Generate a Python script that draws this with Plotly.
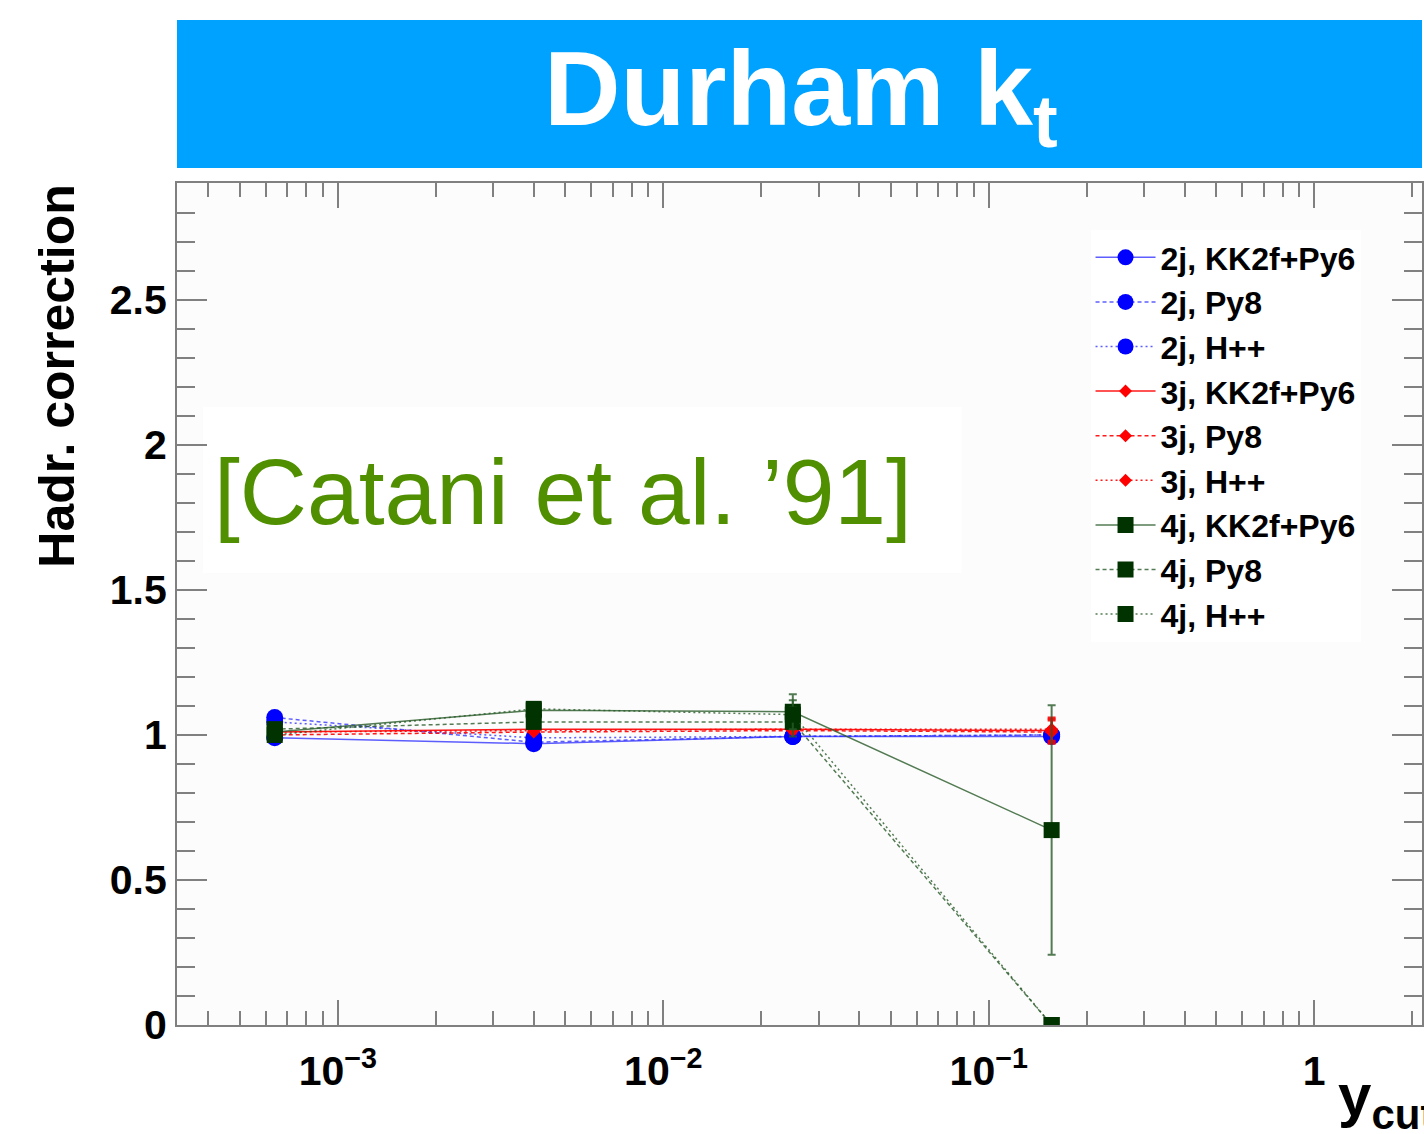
import plotly.graph_objects as go

# y_cut bin centres (Durham k_t)
ycut = [0.00064, 0.004, 0.025, 0.156]

# hadronisation corrections per jet multiplicity and generator
r2j_kk = [0.99, 0.97, 0.995, 0.995]
r2j_py8 = [1.06, 0.975, 0.995, 1.00]
r2j_hpp = [1.045, 0.99, 0.995, 1.00]
r3j_kk = [1.01, 1.02, 1.02, 1.015]
r3j_py8 = [1.00, 1.01, 1.015, 1.01]
r3j_hpp = [1.01, 1.015, 1.02, 1.02]
r4j_kk = [1.01, 1.085, 1.08, 0.672]
r4j_py8 = [1.02, 1.045, 1.045, 0.0]
r4j_hpp = [1.00, 1.09, 1.07, 0.0]

# statistical uncertainties
e2j = [0.005, 0.005, 0.005, 0.005]
e3j = [0.005, 0.005, 0.01, 0.04]
e4j_kk = [0.01, 0.02, 0.06, 0.43]
e4j_py8 = [0.01, 0.02, 0.05, 0.0]
e4j_hpp = [0.01, 0.02, 0.05, 0.0]

x_tickvals = [0.001, 0.01, 0.1, 1]
x_ticktext = ["<b>10<sup>\u22123</sup></b>", "<b>10<sup>\u22122</sup></b>",
              "<b>10<sup>\u22121</sup></b>", "<b>1</b>"]

FONT = "Liberation Sans, Arial, Helvetica, sans-serif"

BLUE_M, BLUE_L = "#0000ff", "rgba(40,40,255,0.75)"
RED_M, RED_L = "#ff0000", "rgba(255,0,0,0.9)"
GREEN_M, GREEN_L = "#003300", "rgba(40,90,40,0.8)"

series = [
    ("2j, KK2f+Py6", r2j_kk, e2j, BLUE_M, BLUE_L, "circle", 17, "solid"),
    ("2j, Py8", r2j_py8, e2j, BLUE_M, BLUE_L, "circle", 17, "4px,3px"),
    ("2j, H++", r2j_hpp, e2j, BLUE_M, BLUE_L, "circle", 17, "2px,3px"),
    ("3j, KK2f+Py6", r3j_kk, e3j, RED_M, RED_L, "diamond", 10, "solid"),
    ("3j, Py8", r3j_py8, e3j, RED_M, RED_L, "diamond", 10, "4px,3px"),
    ("3j, H++", r3j_hpp, e3j, RED_M, RED_L, "diamond", 10, "2px,3px"),
    ("4j, KK2f+Py6", r4j_kk, e4j_kk, GREEN_M, GREEN_L, "square", 16, "solid"),
    ("4j, Py8", r4j_py8, e4j_py8, GREEN_M, GREEN_L, "square", 16, "4px,3px"),
    ("4j, H++", r4j_hpp, e4j_hpp, GREEN_M, GREEN_L, "square", 16, "2px,3px"),
]

fig = go.Figure()
for name, vals, errs, mcol, lcol, sym, size, dash in series:
    fig.add_trace(go.Scatter(
        x=ycut, y=vals, name=name, mode="lines+markers",
        line=dict(color=lcol, width=1.5, dash=dash),
        marker=dict(color=mcol, symbol=sym, size=size, line=dict(width=0)),
        error_y=dict(type="data", array=errs, visible=True,
                     color=lcol, thickness=2, width=4),
    ))

W, H = 1424, 1134
L, R, T, B = 177, 0, 183, 109
pw, ph = W - L - R, H - T - B


def px_x(p):
    return (p - L) / pw


def px_y(p):
    return (H - B - p) / ph


# header banner
fig.add_shape(type="rect", xref="paper", yref="paper",
              x0=0, x1=1.0, y0=px_y(168), y1=px_y(20),
              fillcolor="#00a2ff", line=dict(width=0))
fig.add_annotation(xref="paper", yref="paper", x=px_x(802), y=px_y(96),
                   xanchor="center", yanchor="middle", showarrow=False,
                   text="<b>Durham k<sub>t</sub></b>",
                   font=dict(family=FONT, size=106, color="white"))

# reference box
fig.add_shape(type="rect", xref="x domain", yref="y domain", layer="below",
              x0=px_x(203), x1=px_x(963), y0=px_y(573), y1=px_y(407),
              fillcolor="#ffffff", line=dict(width=0))
fig.add_annotation(xref="paper", yref="paper", x=px_x(564), y=px_y(492),
                   xanchor="center", yanchor="middle", showarrow=False,
                   text="[Catani et al. \u201991]",
                   font=dict(family=FONT, size=93, color="#4f8f00"))

# axis titles
fig.add_annotation(xref="paper", yref="paper", x=px_x(56), y=1.0,
                   xanchor="center", yanchor="top", showarrow=False,
                   textangle=-90, text="<b>Hadr. correction</b>",
                   font=dict(family=FONT, size=50, color="black"))
fig.add_annotation(xref="paper", yref="paper", x=px_x(1338), y=px_y(1140),
                   xanchor="left", yanchor="bottom", showarrow=False,
                   text="<b>y<sub>cut</sub></b>",
                   font=dict(family=FONT, size=60, color="black"))

axis_col = "#808080"
fig.update_layout(
    width=W, height=H,
    margin=dict(l=L, r=R, t=T, b=B, pad=0),
    paper_bgcolor="white", plot_bgcolor="#fcfcfc",
    font=dict(family=FONT, color="black"),
    showlegend=True,
    legend=dict(x=px_x(1092), y=px_y(230), xanchor="left", yanchor="top",
                bgcolor="#ffffff", borderwidth=0, itemwidth=60,
                font=dict(family=FONT, size=32, color="black", weight="bold"),
                tracegroupgap=0),
    xaxis=dict(type="log", range=[-3.494, 0.331],
               tickvals=x_tickvals, ticktext=x_ticktext,
               ticks="inside", ticklen=25, tickwidth=2, tickcolor=axis_col,
               minor=dict(ticks="inside", ticklen=14, tickwidth=2,
                          tickcolor=axis_col, dtick="D1", showgrid=False),
               showline=True, linecolor=axis_col, linewidth=2, mirror="ticks",
               showgrid=False, zeroline=False,
               tickfont=dict(family=FONT, size=41, color="black"),
               ticklabelstandoff=9),
    yaxis=dict(range=[0, 2.903], dtick=0.5, tick0=0,
               ticks="inside", ticklen=30, tickwidth=2, tickcolor=axis_col,
               minor=dict(ticks="inside", ticklen=18, tickwidth=2,
                          tickcolor=axis_col, dtick=0.1, showgrid=False),
               showline=True, linecolor=axis_col, linewidth=2, mirror="ticks",
               showgrid=False, zeroline=False,
               tickfont=dict(family=FONT, size=41, color="black", weight="bold"),
               ticklabelstandoff=0),
)

fig.write_html("out.html")
